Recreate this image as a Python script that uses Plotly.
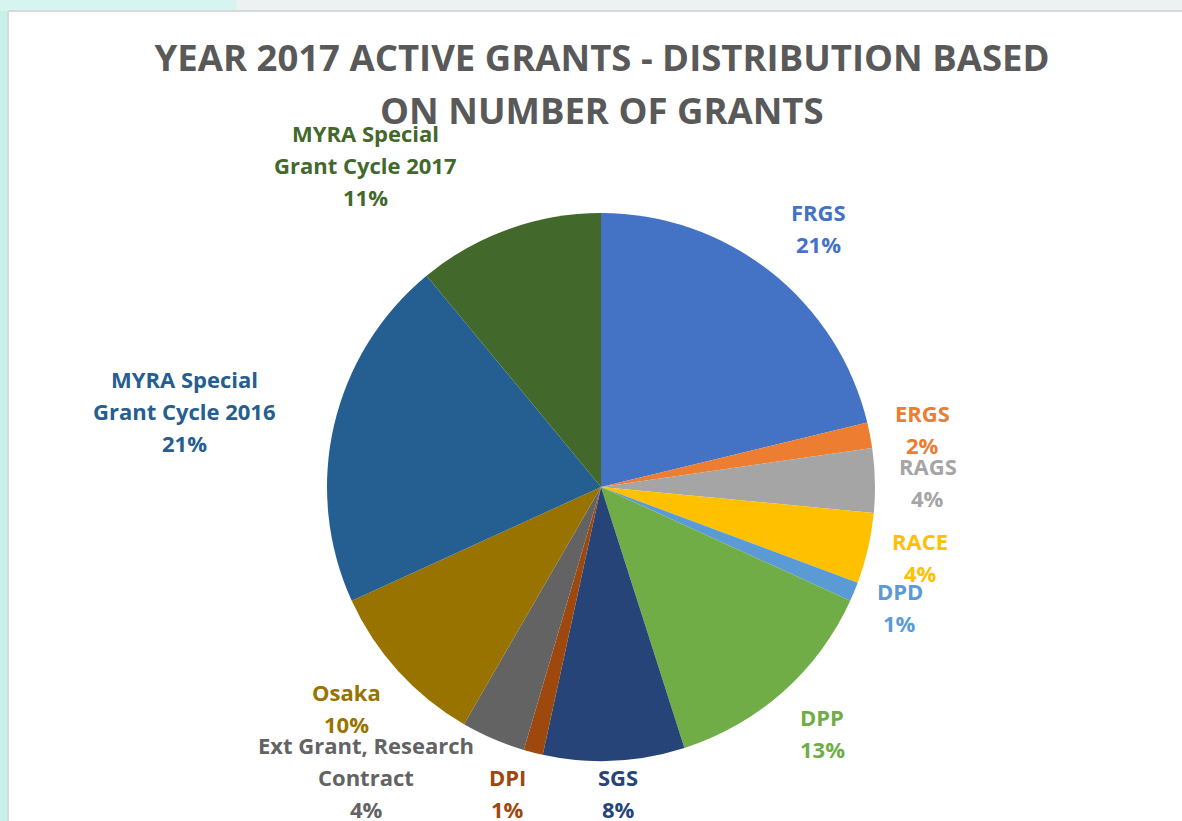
import plotly.graph_objects as go

# ---- data ----
categories = ["FRGS", "ERGS", "RAGS", "RACE", "DPD", "DPP", "SGS", "DPI",
              "Ext Grant, Research Contract", "Osaka",
              "MYRA Special Grant Cycle 2016", "MYRA Special Grant Cycle 2017"]
grant_counts = [56, 4, 10, 11, 3, 35, 22, 3, 10, 26, 55, 29]
label_lines = [["FRGS"], ["ERGS"], ["RAGS"], ["RACE"], ["DPD"], ["DPP"], ["SGS"], ["DPI"],
               ["Ext Grant, Research", "Contract"], ["Osaka"],
               ["MYRA Special", "Grant Cycle 2016"], ["MYRA Special", "Grant Cycle 2017"]]
colors = ["#4472C4", "#ED7D31", "#A5A5A5", "#FFC000", "#5B9BD5", "#70AD47",
          "#264478", "#9E480E", "#636363", "#997300", "#255E91", "#43682B"]
title_lines = ["YEAR 2017 ACTIVE GRANTS - DISTRIBUTION BASED", "ON NUMBER OF GRANTS"]

# ---- layout helpers (pixel positions of label blocks: first-line center) ----
W, H = 1182, 821
label_pos = [(818, 212), (922, 413), (928, 466), (920, 541), (900, 591), (822, 717),
             (618, 777), (507, 777), (366, 745), (346, 692), (184, 379), (365, 133)]
LINE = 32
FONT = "Open Sans"
TITLE_Y = [58, 110]

total = sum(grant_counts)
cx, cy, r = 601, 487, 274

fig = go.Figure(go.Pie(
    labels=categories, values=grant_counts, sort=False, direction="clockwise",
    rotation=0, textinfo="none", hoverinfo="label+percent",
    marker=dict(colors=colors, line=dict(width=0)),
    domain=dict(x=[(cx - r) / W, (cx + r) / W], y=[1 - (cy + r) / H, 1 - (cy - r) / H]),
    showlegend=False,
))

annotations = []
for lines, v, c, (px, py) in zip(label_lines, grant_counts, colors, label_pos):
    pct = f"{round(100 * v / total)}%"
    for i, t in enumerate(lines + [pct]):
        annotations.append(dict(
            text=t, x=px / W, y=1 - (py + i * LINE) / H, xref="paper", yref="paper",
            xanchor="center", yanchor="middle", showarrow=False,
            font=dict(family=FONT, size=22, color=c, weight="bold")))

# second title line
annotations.append(dict(
    text=title_lines[1], x=602 / W, y=1 - TITLE_Y[1] / H, xref="paper", yref="paper",
    xanchor="center", yanchor="middle", showarrow=False,
    font=dict(family=FONT, size=36.5, color="#595959", weight="bold")))

fig.update_layout(
    width=W, height=H, margin=dict(l=0, r=0, t=0, b=0),
    paper_bgcolor="white", plot_bgcolor="white",
    title=dict(text=title_lines[0], x=602 / W, xanchor="center", y=1 - TITLE_Y[0] / H,
               yanchor="middle",
               font=dict(family=FONT, size=36.5, color="#595959", weight="bold")),
    annotations=annotations,
    shapes=[
        dict(type="rect", xref="paper", yref="paper", x0=0, x1=1, y0=1 - 11 / H, y1=1,
             fillcolor="#eef1f1", line=dict(width=0), layer="below"),
        dict(type="rect", xref="paper", yref="paper", x0=0, x1=8 / W, y0=0, y1=1,
             fillcolor="#c8f0ea", line=dict(width=0), layer="below"),
        dict(type="rect", xref="paper", yref="paper", x0=0, x1=0.2, y0=1 - 11 / H, y1=1,
             fillcolor="#d6f5f0", line=dict(width=0), layer="below"),
        dict(type="line", xref="paper", yref="paper", x0=8 / W, x1=1, y0=1 - 11 / H, y1=1 - 11 / H,
             line=dict(color="#d9d9d9", width=2)),
        dict(type="line", xref="paper", yref="paper", x0=8 / W, x1=8 / W, y0=0, y1=1 - 11 / H,
             line=dict(color="#d9d9d9", width=2)),
    ],
)

fig.write_html("out.html")
